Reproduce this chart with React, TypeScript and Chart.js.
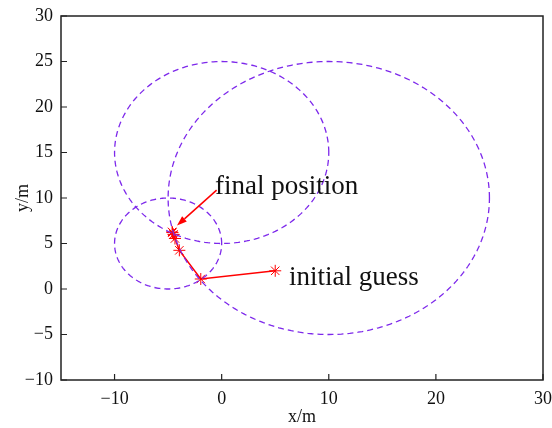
import React, { useEffect, useRef } from "react";
import { Chart, registerables } from "chart.js";

Chart.register(...registerables);

const xTicks = [-10, 0, 10, 20, 30];
const yTicks = [-10, -5, 0, 5, 10, 15, 20, 25, 30];

// circles: centres and radii
const circleCx = [0, 10, -5];
const circleCy = [15, 10, 5];
const circleR = [10, 15, 5];

// iteration path
const pathX = [5, -1.95, -3.95, -4.36, -4.5, -4.59, -4.63];
const pathY = [2, 1.1, 4.25, 5.55, 6.0, 6.2, 6.27];

// annotations
const finalLabel = { text: "final position", x: -0.62, y: 10.4 };
const initLabel = { text: "initial guess", x: 6.28, y: 0.48 };
const arrowFrom = [-0.47, 10.87];
const arrowTo = [-4.17, 6.98];

const SERIF = "'Liberation Serif', 'DejaVu Serif', serif";
const CIRCLE_COLOR = "rgb(125,40,235)";

function circlePoints(cx: number, cy: number, r: number) {
  const pts: { x: number; y: number }[] = [];
  const n = 240;
  for (let i = 0; i <= n; i++) {
    const t = (i / n) * Math.PI * 2;
    pts.push({ x: cx + r * Math.cos(t), y: cy + r * Math.sin(t) });
  }
  return pts;
}

const fmt = (v: number) => (v < 0 ? "\u2212" + Math.abs(v) : String(v));

const framePlugin = {
  id: "frameTicks",
  afterDatasetsDraw(chart: any) {
    const { ctx, chartArea: a, scales } = chart;
    const xs = scales.x;
    const ys = scales.y;
    ctx.save();
    // arrow
    const x1 = xs.getPixelForValue(arrowFrom[0]);
    const y1 = ys.getPixelForValue(arrowFrom[1]);
    const x2 = xs.getPixelForValue(arrowTo[0]);
    const y2 = ys.getPixelForValue(arrowTo[1]);
    const ang = Math.atan2(y2 - y1, x2 - x1);
    const hl = 10;
    const hw = 3.5;
    const bx = x2 - hl * Math.cos(ang);
    const by = y2 - hl * Math.sin(ang);
    ctx.strokeStyle = "#ff0000";
    ctx.fillStyle = "#ff0000";
    ctx.lineWidth = 1.5;
    ctx.beginPath();
    ctx.moveTo(x1, y1);
    ctx.lineTo(bx, by);
    ctx.stroke();
    ctx.beginPath();
    ctx.moveTo(x2, y2);
    ctx.lineTo(bx + hw * Math.sin(ang), by - hw * Math.cos(ang));
    ctx.lineTo(bx - hw * Math.sin(ang), by + hw * Math.cos(ang));
    ctx.closePath();
    ctx.fill();

    // labels
    ctx.fillStyle = "#111";
    ctx.font = `27px ${SERIF}`;
    ctx.textAlign = "left";
    ctx.textBaseline = "alphabetic";
    ctx.fillText(finalLabel.text, xs.getPixelForValue(finalLabel.x), ys.getPixelForValue(finalLabel.y));
    ctx.fillText(initLabel.text, xs.getPixelForValue(initLabel.x), ys.getPixelForValue(initLabel.y));

    // frame
    ctx.strokeStyle = "#222";
    ctx.lineWidth = 1.5;
    ctx.strokeRect(a.left, a.top, a.right - a.left, a.bottom - a.top);
    // inward ticks
    ctx.lineWidth = 1.2;
    ctx.beginPath();
    xTicks.forEach((v) => {
      const px = xs.getPixelForValue(v);
      ctx.moveTo(px, a.bottom);
      ctx.lineTo(px, a.bottom - 6);
    });
    yTicks.forEach((v) => {
      const py = ys.getPixelForValue(v);
      ctx.moveTo(a.left, py);
      ctx.lineTo(a.left + 6, py);
    });
    ctx.stroke();
    ctx.restore();
  },
};

export default function App() {
  const ref = useRef<HTMLCanvasElement | null>(null);
  useEffect(() => {
    document.body.style.margin = "0";
    const circleSets = circleCx.map((cx, i) => ({
      type: "line" as const,
      data: circlePoints(cx, circleCy[i], circleR[i]),
      borderColor: CIRCLE_COLOR,
      borderWidth: 1.3,
      borderDash: [6, 4],
      pointRadius: 0,
      fill: false,
      tension: 0,
    }));
    const pathSet = {
      type: "line" as const,
      data: pathX.map((x, i) => ({ x, y: pathY[i] })),
      borderColor: "#ff0000",
      borderWidth: 1.5,
      pointStyle: "star",
      pointRadius: 6,
      pointBorderWidth: 1,
      pointBorderColor: "#ff0000",
      pointBackgroundColor: "#ff0000",
      fill: false,
      tension: 0,
    };
    const chart = new Chart(ref.current as HTMLCanvasElement, {
      type: "line",
      data: { datasets: [...circleSets, pathSet] as any },
      options: {
        animation: false,
        responsive: false,
        parsing: false as any,
        layout: { padding: { top: 16, right: 9, left: 0, bottom: 0 } },
        plugins: { legend: { display: false }, tooltip: { enabled: false } },
        scales: {
          x: {
            type: "linear",
            min: -15,
            max: 30,
            grid: { display: false, drawTicks: false },
            border: { display: false },
            afterBuildTicks: (s: any) => {
              s.ticks = xTicks.map((v) => ({ value: v }));
            },
            afterFit: (s: any) => {
              s.height = 48;
              s.paddingLeft = 0;
              s.paddingRight = 0;
            },
            ticks: {
              color: "#111",
              font: { family: SERIF, size: 18 },
              padding: 8,
              maxRotation: 0,
              callback: (v: any) => fmt(Number(v)),
            },
            title: {
              display: true,
              text: "x/m",
              color: "#111",
              font: { family: SERIF, size: 18 },
              padding: 0,
            },
          },
          y: {
            type: "linear",
            min: -10,
            max: 30,
            grid: { display: false, drawTicks: false },
            border: { display: false },
            afterBuildTicks: (s: any) => {
              s.ticks = yTicks.map((v) => ({ value: v }));
            },
            afterFit: (s: any) => {
              s.width = 61;
              s.paddingTop = 0;
              s.paddingBottom = 0;
            },
            ticks: {
              color: "#111",
              font: { family: SERIF, size: 18 },
              padding: 8,
              callback: (v: any) => fmt(Number(v)),
            },
            title: {
              display: true,
              text: "y/m",
              color: "#111",
              font: { family: SERIF, size: 18 },
              padding: { top: 12, bottom: 0 },
            },
          },
        },
      },
      plugins: [framePlugin],
    });
    return () => chart.destroy();
  }, []);
  return (
    <div style={{ width: 552, height: 428 }}>
      <canvas ref={ref} width={552} height={428} style={{ width: 552, height: 428, display: "block" }} />
    </div>
  );
}
